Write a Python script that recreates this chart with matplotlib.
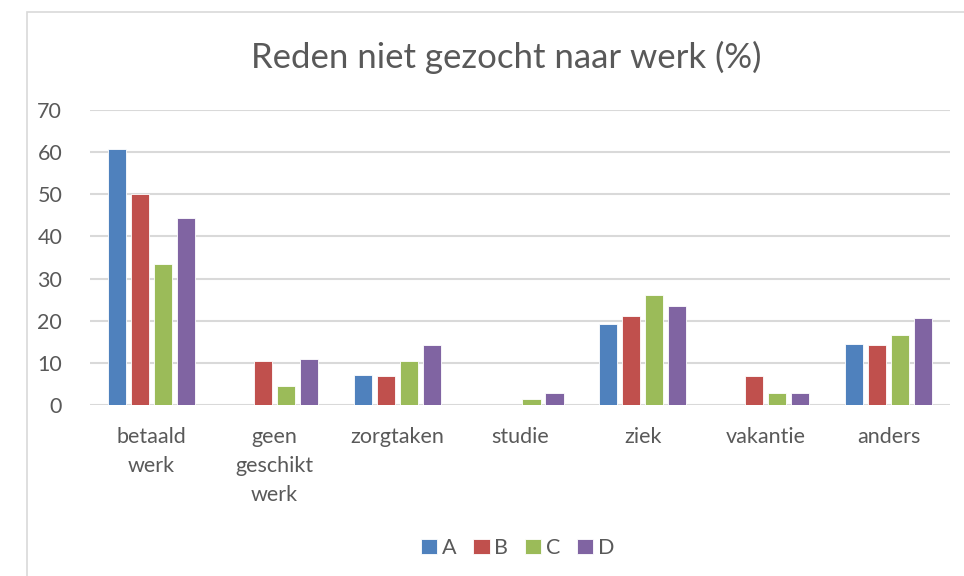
import numpy as np
import matplotlib.pyplot as plt
from matplotlib.patches import Rectangle

plt.rcParams['font.family'] = ['Lato', 'DejaVu Sans']

categories = ['betaald\nwerk', 'geen\ngeschikt\nwerk', 'zorgtaken', 'studie', 'ziek', 'vakantie', 'anders']
series = ['A', 'B', 'C', 'D']
A = [60.8, 0, 7.1, 0, 19.3, 0, 14.4]
B = [50.0, 10.4, 6.8, 0, 21.1, 6.8, 14.2]
C = [33.5, 4.4, 10.4, 1.4, 26.0, 2.9, 16.5]
D = [44.3, 10.8, 14.2, 2.8, 23.6, 2.9, 20.6]
colors = ['#4f81bd', '#c0504d', '#9bbb59', '#8064a2']

fig = plt.figure(figsize=(9.64, 5.76), dpi=100)
# chart border
fig.patches.append(Rectangle((27/964, -0.1), 1.1, 1 - 12/576 + 0.1, transform=fig.transFigure,
                             fill=False, edgecolor='#d9d9d9', lw=1.2))

ax = fig.add_axes([90/964, 1 - 405/576, 860/964, 295/576])
x = np.arange(len(categories))
slot = 0.187
for i, (vals, col) in enumerate(zip([A, B, C, D], colors)):
    ax.bar(x + (i - 1.5) * slot, vals, width=0.148, color=col, edgecolor='white',
           linewidth=0.6, label=series[i], zorder=3)

ax.set_xlim(-0.5, len(categories) - 0.5)
ax.set_ylim(0, 70)
ax.set_yticks(range(0, 71, 10))
ax.grid(axis='y', color='#d9d9d9', lw=1.5, zorder=0)
for s in ax.spines.values():
    s.set_visible(False)
ax.tick_params(axis='both', length=0, labelsize=15.5, labelcolor='#595959')
ax.tick_params(axis='y', pad=20)
ax.tick_params(axis='x', pad=16)
ax.set_xticks(x)
ax.set_xticklabels(categories, linespacing=1.55)

fig.text(0.525, 1 - 57/576, 'Reden niet gezocht naar werk (%)', ha='center', va='center',
         fontsize=25, color='#595959')

fig.legend(loc='center', bbox_to_anchor=(0.537, 1 - 548/576), ncol=4, frameon=False,
           fontsize=15.5, handlelength=0.75, handleheight=0.75, handletextpad=0.2,
           columnspacing=0.8, labelcolor='#595959')

fig.savefig('out.png', dpi=100)
